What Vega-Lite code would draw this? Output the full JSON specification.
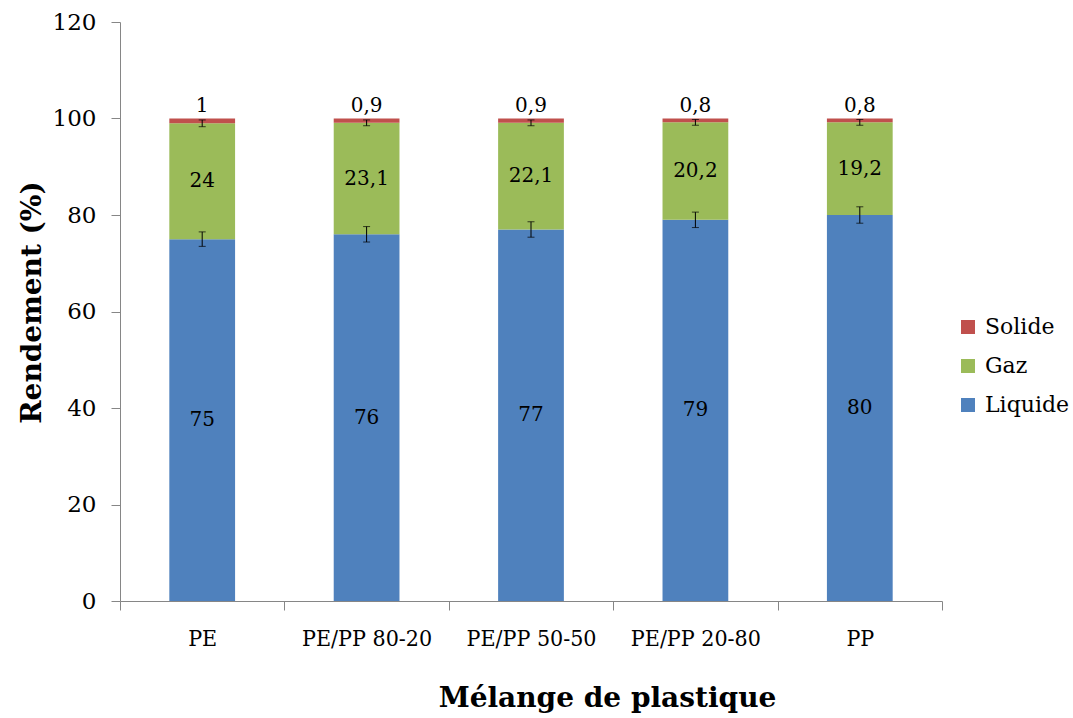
{
  "$schema": "https://vega.github.io/schema/vega-lite/v6.json",
  "width": 822,
  "height": 579,
  "autosize": "none",
  "padding": {"left": 120, "top": 22, "right": 131, "bottom": 117},
  "config": {
    "locale": {"number": {"decimal": ",", "thousands": " ", "grouping": [3], "currency": ["", " €"]}},
    "view": {"stroke": null},
    "font": "DejaVu Serif"
  },
  "datasets": {
    "yields": [
      {"cat": "PE", "type": "Liquide", "value": 75},
      {"cat": "PE", "type": "Gaz", "value": 24},
      {"cat": "PE", "type": "Solide", "value": 1},
      {"cat": "PE/PP 80-20", "type": "Liquide", "value": 76},
      {"cat": "PE/PP 80-20", "type": "Gaz", "value": 23.1},
      {"cat": "PE/PP 80-20", "type": "Solide", "value": 0.9},
      {"cat": "PE/PP 50-50", "type": "Liquide", "value": 77},
      {"cat": "PE/PP 50-50", "type": "Gaz", "value": 22.1},
      {"cat": "PE/PP 50-50", "type": "Solide", "value": 0.9},
      {"cat": "PE/PP 20-80", "type": "Liquide", "value": 79},
      {"cat": "PE/PP 20-80", "type": "Gaz", "value": 20.2},
      {"cat": "PE/PP 20-80", "type": "Solide", "value": 0.8},
      {"cat": "PP", "type": "Liquide", "value": 80},
      {"cat": "PP", "type": "Gaz", "value": 19.2},
      {"cat": "PP", "type": "Solide", "value": 0.8}
    ],
    "errs": [
      {"cat": "PE", "c": 75, "e": 1.5},
      {"cat": "PE", "c": 99, "e": 0.7},
      {"cat": "PE/PP 80-20", "c": 76, "e": 1.6},
      {"cat": "PE/PP 80-20", "c": 99.1, "e": 0.6},
      {"cat": "PE/PP 50-50", "c": 77, "e": 1.6},
      {"cat": "PE/PP 50-50", "c": 99.1, "e": 0.6},
      {"cat": "PE/PP 20-80", "c": 79, "e": 1.6},
      {"cat": "PE/PP 20-80", "c": 99.2, "e": 0.6},
      {"cat": "PP", "c": 80, "e": 1.7},
      {"cat": "PP", "c": 99.2, "e": 0.6}
    ]
  },
  "encoding": {
    "x": {
      "field": "cat",
      "type": "nominal",
      "sort": ["PE", "PE/PP 80-20", "PE/PP 50-50", "PE/PP 20-80", "PP"],
      "scale": {"paddingInner": 0, "paddingOuter": 0},
      "axis": {
        "title": "Mélange de plastique",
        "labelAngle": 0,
        "tickBand": "extent",
        "domainColor": "#868686",
        "tickColor": "#868686",
        "tickSize": 9,
        "labelFont": "DejaVu Serif Condensed",
        "labelFontSize": 23,
        "labelColor": "black",
        "labelPadding": 17,
        "titleFont": "DejaVu Serif",
        "titleFontSize": 28,
        "titleFontWeight": "bold",
        "titleColor": "black",
        "titleX": 487,
        "titleY": 105,
        "titleBaseline": "alphabetic"
      }
    }
  },
  "layer": [
    {
      "data": {"name": "yields"},
      "transform": [
        {"calculate": "indexof(['Liquide','Gaz','Solide'], datum.type)", "as": "ord"},
        {"stack": "value", "groupby": ["cat"], "sort": [{"field": "ord", "order": "ascending"}], "as": ["y0", "y1"]},
        {"calculate": "(datum.y0+datum.y1)/2", "as": "mid"}
      ],
      "layer": [
        {
          "mark": {"type": "bar", "width": {"band": 0.4}},
          "encoding": {
            "y": {
              "field": "y0",
              "type": "quantitative",
              "scale": {"domain": [0, 120]},
              "axis": {
                "title": "Rendement (%)",
                "values": [0, 20, 40, 60, 80, 100, 120],
                "grid": false,
                "domainColor": "#868686",
                "tickColor": "#868686",
                "tickSize": 9,
                "labelFont": "DejaVu Serif",
                "labelFontSize": 23,
                "labelColor": "black",
                "labelPadding": 15,
                "titleFont": "DejaVu Serif",
                "titleFontSize": 28,
                "titleFontWeight": "bold",
                "titleColor": "black",
                "titleX": -80,
                "titleY": 280,
                "titleBaseline": "alphabetic",
                "titleAlign": "center"
              }
            },
            "y2": {"field": "y1"},
            "color": {
              "field": "type",
              "type": "nominal",
              "scale": {"domain": ["Solide", "Gaz", "Liquide"], "range": ["#C0504D", "#9BBB59", "#4F81BD"]},
              "legend": {
                "title": null,
                "orient": "none",
                "legendX": 837,
                "legendY": 294,
                "symbolType": "square",
                "symbolSize": 196,
                "symbolStrokeWidth": 0,
                "symbolOpacity": 1,
                "labelFont": "DejaVu Serif",
                "labelFontSize": 22,
                "labelColor": "black",
                "rowPadding": 17,
                "labelOffset": 6
              }
            }
          }
        },
        {
          "transform": [{"filter": "datum.type !== 'Solide'"}],
          "mark": {"type": "text", "font": "DejaVu Serif", "fontSize": 20, "color": "black", "baseline": "middle"},
          "encoding": {
            "y": {"field": "mid", "type": "quantitative", "title": "Rendement (%)"},
            "text": {"field": "value", "type": "quantitative", "format": ".1~f"}
          }
        },
        {
          "transform": [{"filter": "datum.type === 'Solide'"}],
          "mark": {"type": "text", "font": "DejaVu Serif", "fontSize": 20, "color": "black", "baseline": "alphabetic", "dy": -7},
          "encoding": {
            "y": {"field": "y1", "type": "quantitative", "title": "Rendement (%)"},
            "text": {"field": "value", "type": "quantitative", "format": ".1~f"}
          }
        }
      ]
    },
    {
      "data": {"name": "errs"},
      "mark": {"type": "errorbar", "color": "black", "ticks": {"size": 7, "color": "black"}, "rule": {"color": "black", "strokeWidth": 1}},
      "encoding": {
        "y": {"field": "c", "type": "quantitative", "title": "Rendement (%)"},
        "yError": {"field": "e"}
      }
    }
  ]
}
